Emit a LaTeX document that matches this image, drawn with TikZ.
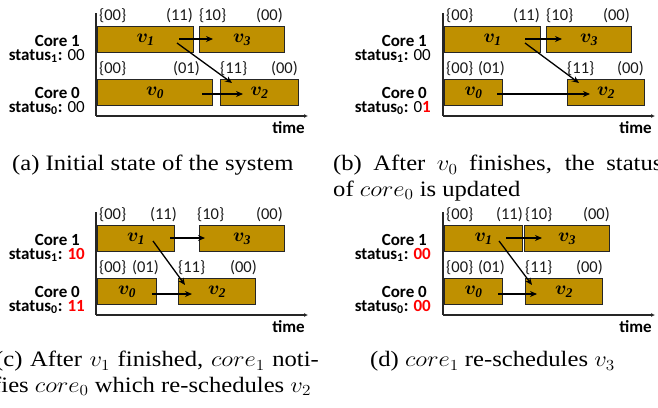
\RequirePackage{fix-cm}
\documentclass[tikz,border=0pt]{standalone}
\usepackage{amsmath,bm}
\usepackage{fontspec}
\setmainfont{Liberation Serif}
\newfontfamily\carl{Carlito}
\usetikzlibrary{arrows.meta}
\definecolor{gold}{RGB}{191,144,0}
\definecolor{redt}{RGB}{255,0,0}
\newcommand{\vv}[1]{$\bm{v}_{\textbf{\textit{#1}}}$}
\newcommand{\rd}[1]{{\color{redt}\bfseries #1}}
\begin{document}
\begin{tikzpicture}[x=1pt,y=-1pt,
 box/.style={draw=black!85, line width=1.3pt, fill=gold, inner sep=0pt, anchor=north west,
   minimum height=26pt, font=\fontsize{19}{19}\selectfont},
 lbl/.style={font=\carl\fontsize{16.5}{16.5}\selectfont, inner sep=0pt, text=black!90},
 lw/.style={lbl, anchor=base west},
 le/.style={lbl, anchor=base east},
 core/.style={font=\carl\bfseries\fontsize{17}{17}\selectfont, inner sep=0pt, anchor=base east},
 axis/.style={line width=1.2pt, draw=black!85},
 xaxis/.style={axis, -{Latex[length=4pt,width=4pt]}},
 conn/.style={line width=1.3pt, -{Stealth[length=7pt,width=6pt]}},
 captext/.style={font=\fontsize{22}{25}\selectfont, inner sep=0pt, anchor=base west}]
\useasboundingbox (0,0) rectangle (658,407);
\clip (0,0) rectangle (658,407);

% ---------------- panel (a)
\coordinate (aT) at (96,13); \coordinate (aO) at (96,116); \coordinate (aX) at (308,116);
\draw[axis] (aT) -- (aO);
\draw[xaxis] (aO) -- (aX);
\node[box, minimum width=96pt] (av1) at (97,26) {\vv{1}};
\node[box, minimum width=85pt] (av3) at (199,26) {\vv{3}};
\node[box, minimum width=115pt] (av0) at (97,79) {\vv{0}};
\node[box, minimum width=78pt] (av2) at (220,79) {\vv{2}};
\node[lw] (al1) at (99,20) {\{00\}};
\node[le] (al2) at (193,20) {(11)};
\node[lw] (al3) at (199,20) {\{10\}};
\node[le] (al4) at (283,20) {(00)};
\node[lw] (al5) at (99,73) {\{00\}};
\node[le] (al6) at (200,73) {(01)};
\node[lw] (al7) at (220,73) {\{11\}};
\node[le] (al8) at (298,73) {(00)};
\node[core] (ac1) at (80,46) {Core 1};
\node[core] (as1) at (85,60) {status\textsubscript{1}: {\mdseries 00}};
\node[core] (ac0) at (80,98) {Core 0};
\node[core] (as0) at (85,112) {status\textsubscript{0}: {\mdseries 00}};
\node[core] (atime) at (305,133) {time};
\coordinate (a13s) at (179,39); \coordinate (a13e) at (213,39);
\coordinate (a12s) at (177,43); \coordinate (a12e) at (232,83);
\coordinate (a02s) at (202,94); \coordinate (a02e) at (243,94);
\draw[conn] (a13s) -- (a13e);
\draw[conn] (a12s) -- (a12e);
\draw[conn] (a02s) -- (a02e);

% ---------------- panel (b)
\coordinate (bT) at (443,13); \coordinate (bO) at (443,116); \coordinate (bX) at (655,116);
\draw[axis] (bT) -- (bO);
\draw[xaxis] (bO) -- (bX);
\node[box, minimum width=96pt] (bv1) at (444,26) {\vv{1}};
\node[box, minimum width=85pt] (bv3) at (546,26) {\vv{3}};
\node[box, minimum width=58pt] (bv0) at (444,79) {\vv{0}};
\node[box, minimum width=77pt] (bv2) at (567,79) {\vv{2}};
\node[lw] (bl1) at (446,20) {\{00\}};
\node[le] (bl2) at (540,20) {(11)};
\node[lw] (bl3) at (546,20) {\{10\}};
\node[le] (bl4) at (630,20) {(00)};
\node[lw] (bl5) at (446,73) {\{00\}};
\node[le] (bl6) at (505,73) {(01)};
\node[lw] (bl7) at (567,73) {\{11\}};
\node[le] (bl8) at (644,73) {(00)};
\node[core] (bc1) at (427,46) {Core 1};
\node[core] (bs1) at (431,60) {status\textsubscript{1}: {\mdseries 00}};
\node[core] (bc0) at (427,98) {Core 0};
\node[core] (bs0) at (431,112) {status\textsubscript{0}: {\mdseries 0}\rd{1}};
\node[core] (btime) at (652,133) {time};
\coordinate (b13s) at (525,39); \coordinate (b13e) at (562,39);
\coordinate (b12s) at (525,43); \coordinate (b12e) at (579,83);
\coordinate (b02s) at (497,94); \coordinate (b02e) at (590,94);
\draw[conn] (b13s) -- (b13e);
\draw[conn] (b12s) -- (b12e);
\draw[conn] (b02s) -- (b02e);

% ---------------- panel (c)
\coordinate (cT) at (96,212); \coordinate (cO) at (96,315); \coordinate (cX) at (308,315);
\draw[axis] (cT) -- (cO);
\draw[xaxis] (cO) -- (cX);
\node[box, minimum width=77pt] (cv1) at (97,225) {\vv{1}};
\node[box, minimum width=85pt] (cv3) at (199,225) {\vv{3}};
\node[box, minimum width=59pt] (cv0) at (97,278) {\vv{0}};
\node[box, minimum width=77pt] (cv2) at (178,278) {\vv{2}};
\node[lw] (cl1) at (99,219) {\{00\}};
\node[le] (cl2) at (177,219) {(11)};
\node[lw] (cl3) at (197,219) {\{10\}};
\node[le] (cl4) at (283,219) {(00)};
\node[lw] (cl5) at (99,272) {\{00\}};
\node[le] (cl6) at (159,272) {(01)};
\node[lw] (cl7) at (178,272) {\{11\}};
\node[le] (cl8) at (257,272) {(00)};
\node[core] (cc1) at (80,245) {Core 1};
\node[core] (cs1) at (85,259) {status\textsubscript{1}: \rd{10}};
\node[core] (cc0) at (80,297) {Core 0};
\node[core] (cs0) at (85,311) {status\textsubscript{0}: \rd{11}};
\node[core] (ctime) at (305,332) {time};
\coordinate (c13s) at (170,238); \coordinate (c13e) at (205,238);
\coordinate (c12s) at (153,241); \coordinate (c12e) at (185,285);
\coordinate (c02s) at (152,294); \coordinate (c02e) at (192,294);
\draw[conn] (c13s) -- (c13e);
\draw[conn] (c12s) -- (c12e);
\draw[conn] (c02s) -- (c02e);

% ---------------- panel (d)
\coordinate (dT) at (443,212); \coordinate (dO) at (443,315); \coordinate (dX) at (655,315);
\draw[axis] (dT) -- (dO);
\draw[xaxis] (dO) -- (dX);
\node[box, minimum width=78pt] (dv1) at (444,225) {\vv{1}};
\node[box, minimum width=85pt] (dv3) at (524,225) {\vv{3}};
\node[box, minimum width=58pt] (dv0) at (444,278) {\vv{0}};
\node[box, minimum width=77pt] (dv2) at (525,278) {\vv{2}};
\node[lw] (dl1) at (446,219) {\{00\}};
\node[le] (dl2) at (523,219) {(11)};
\node[lw] (dl3) at (525,219) {\{10\}};
\node[le] (dl4) at (610,219) {(00)};
\node[lw] (dl5) at (446,272) {\{00\}};
\node[le] (dl6) at (505,272) {(01)};
\node[lw] (dl7) at (525,272) {\{11\}};
\node[le] (dl8) at (603,272) {(00)};
\node[core] (dc1) at (427,245) {Core 1};
\node[core] (ds1) at (431,259) {status\textsubscript{1}: \rd{00}};
\node[core] (dc0) at (427,297) {Core 0};
\node[core] (ds0) at (431,311) {status\textsubscript{0}: \rd{00}};
\node[core] (dtime) at (652,332) {time};
\coordinate (d13s) at (506,238); \coordinate (d13e) at (542,238);
\coordinate (d12s) at (499,241); \coordinate (d12e) at (532,285);
\coordinate (d02s) at (498,294); \coordinate (d02e) at (537,294);
\draw[conn] (d13s) -- (d13e);
\draw[conn] (d12s) -- (d12e);
\draw[conn] (d02s) -- (d02e);

% ---------------- captions
\node[captext] (capa) at (12,170.7) {\scalebox{1.12}[1]{(a) Initial state of the system}};
\node[captext] (capb1) at (333,170.7) {\scalebox{1.12}[1]{\makebox[294pt][s]{(b) After $v_0$ finishes, the status}}};
\node[captext] (capb2) at (333,196) {\scalebox{1.12}[1]{of $core_0$ is updated}};
\node[captext] (capc1) at (-5,366.7) {\scalebox{1.12}[1]{\makebox[289pt][s]{(c) After $v_1$ finished, $core_1$ noti-}}};
\node[captext] (capc2) at (-7,392) {\scalebox{1.12}[1]{fies $core_0$ which re-schedules $v_2$}};
\node[captext] (capd) at (370,366.7) {\scalebox{1.12}[1]{(d) $core_1$ re-schedules $v_3$}};
\end{tikzpicture}
\end{document}
